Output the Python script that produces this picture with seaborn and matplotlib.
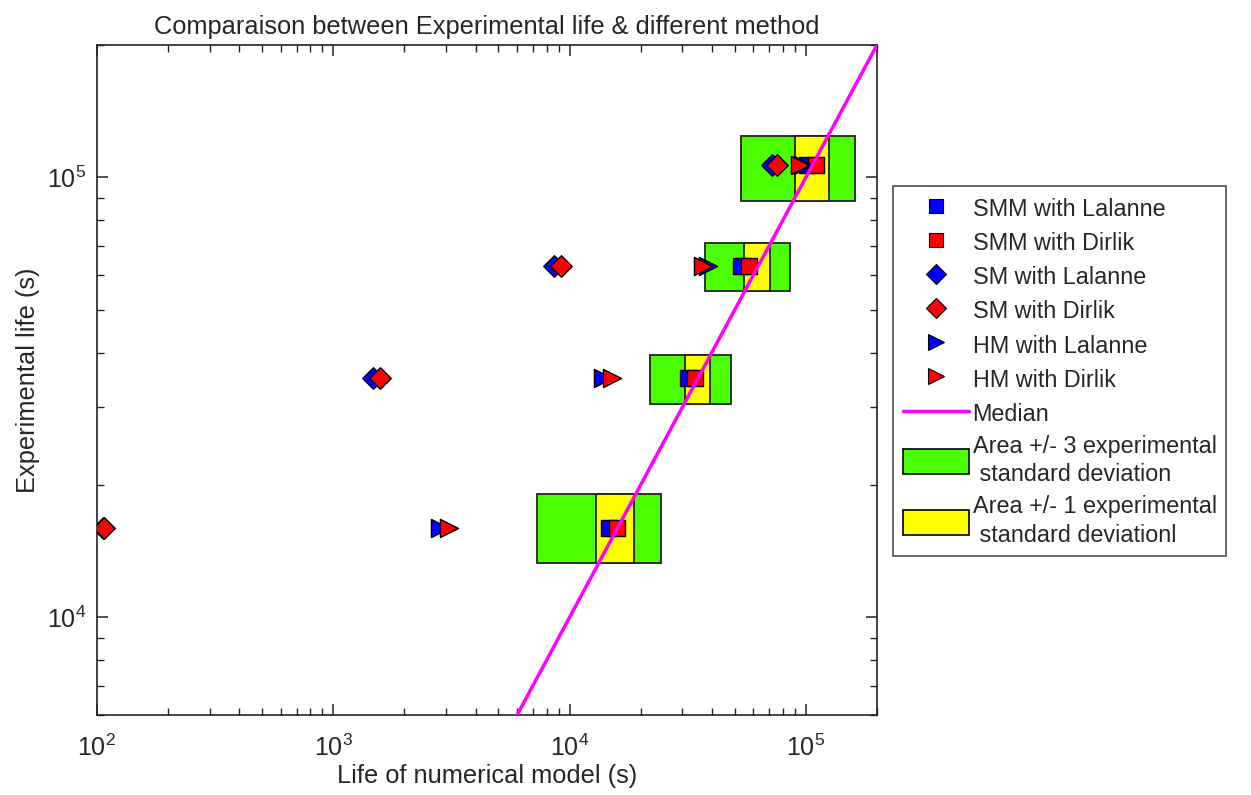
import numpy as np
import pandas as pd
import matplotlib
matplotlib.use("Agg")
import matplotlib.pyplot as plt
import seaborn as sns
from matplotlib.patches import Rectangle, Patch
from matplotlib.lines import Line2D
from matplotlib.ticker import LogLocator, NullFormatter

sns.set_theme(style="white")
plt.rcParams['font.family'] = ['Liberation Sans', 'DejaVu Sans']
plt.rcParams['mathtext.fontset'] = 'custom'
plt.rcParams['mathtext.rm'] = 'Liberation Sans'
plt.rcParams['mathtext.it'] = 'Liberation Sans'

# ---- data ----
exp_life = [16000, 35000, 63000, 106500]

smm_lalanne = [14750, 31600, 53000, 101500]
smm_dirlik = [15950, 33900, 57300, 110000]
sm_lalanne = [106, 1476, 8630, 71800]
sm_dirlik = [107, 1581, 9160, 75400]
hm_lalanne = [2840, 13800, 38500, 97500]
hm_dirlik = [3100, 15060, 36650, 94400]

green_x_lo = [7300, 22000, 37300, 53100]
green_x_hi = [24500, 48000, 85500, 161000]
yellow_x_lo = [13000, 30700, 54600, 89800]
yellow_x_hi = [18700, 39200, 70300, 125000]
box_y_lo = [13300, 30600, 55200, 88300]
box_y_hi = [19100, 39400, 71000, 123900]

median_x = [100, 200000]
median_y = [100, 200000]

series = [
    ("SMM with Lalanne", smm_lalanne, "s", "#0000FF"),
    ("SMM with Dirlik", smm_dirlik, "s", "#FF0000"),
    ("SM with Lalanne", sm_lalanne, "D", "#0000FF"),
    ("SM with Dirlik", sm_dirlik, "D", "#FF0000"),
    ("HM with Lalanne", hm_lalanne, ">", "#0000FF"),
    ("HM with Dirlik", hm_dirlik, ">", "#FF0000"),
]
GREEN = "#4CFF00"
YELLOW = "#FFFF00"
MAGENTA = "#FF00FF"

fig = plt.figure(figsize=(12.51, 7.95), dpi=100)
ax = fig.add_axes([0.0775, 0.1006, 0.6235, 0.8428])
ax.set_xscale("log")
ax.set_yscale("log")

# boxes
for gl, gh, yl, yh, yl_, yh_ in zip(green_x_lo, green_x_hi, yellow_x_lo, yellow_x_hi, box_y_lo, box_y_hi):
    ax.add_patch(Rectangle((gl, yl_), gh - gl, yh_ - yl_, facecolor=GREEN,
                           edgecolor="#222222", lw=1.3, zorder=1))
    ax.add_patch(Rectangle((yl, yl_), yh - yl, yh_ - yl_, facecolor=YELLOW,
                           edgecolor="#222222", lw=1.3, zorder=1.1))

# markers
msize = {"s": 130, "D": 120, ">": 170}
for name, xs, mk, col in series:
    df = pd.DataFrame({"x": xs, "y": exp_life})
    sns.scatterplot(data=df, x="x", y="y", marker=mk, color=col, s=msize[mk],
                    edgecolor="black", linewidth=1.0, ax=ax, zorder=3, legend=False)

# median line
sns.lineplot(x=median_x, y=median_y, color=MAGENTA, lw=2.5, ax=ax, zorder=4)

ax.set_xlim(100, 200000)
ax.set_ylim(6000, 200000)

ax.xaxis.set_major_locator(LogLocator(base=10))
ax.yaxis.set_major_locator(LogLocator(base=10))
ax.xaxis.set_minor_locator(LogLocator(base=10, subs=np.arange(2, 10)))
ax.yaxis.set_minor_locator(LogLocator(base=10, subs=np.arange(2, 10)))
ax.xaxis.set_minor_formatter(NullFormatter())
ax.yaxis.set_minor_formatter(NullFormatter())
ax.tick_params(which="both", direction="in", top=True, right=True, bottom=True, left=True,
               color="#222222")
ax.tick_params(which="major", length=8, width=1.1, labelsize=18)
ax.tick_params(axis="x", which="major", pad=14)
ax.tick_params(axis="y", which="major", pad=8)
ax.tick_params(which="minor", length=5, width=1.0)
for sp in ax.spines.values():
    sp.set_color("#222222")
    sp.set_linewidth(1.2)

ax.set_xlabel("Life of numerical model (s)", fontsize=18.3, labelpad=2)
ax.set_ylabel("Experimental life (s)", fontsize=18.3, labelpad=5)
ax.set_title("Comparaison between Experimental life & different method", fontsize=18.3, pad=8)

handles = [Line2D([], [], linestyle="none", marker=mk, color=col, markeredgecolor="black",
                  markersize=10 if mk != ">" else 11, markeredgewidth=0.8)
           for _, _, mk, col in series]
labels = [s[0] for s in series]
handles.append(Line2D([], [], color=MAGENTA, lw=2.5))
labels.append("Median")
handles.append(Patch(facecolor=GREEN, edgecolor="black", lw=1.2))
labels.append("Area +/- 3 experimental\n standard deviation")
handles.append(Patch(facecolor=YELLOW, edgecolor="black", lw=1.2))
labels.append("Area +/- 1 experimental\n standard deviationl")

leg = fig.legend(handles, labels, loc="upper left", bbox_to_anchor=(0.714, 0.766),
                 frameon=True, fancybox=False, edgecolor="#222222", fontsize=16.8,
                 handlelength=2.85, handleheight=1.3, handletextpad=0.15,
                 labelspacing=0.37, borderpad=0.4, borderaxespad=0)
leg.get_frame().set_linewidth(1.2)
for t in leg.get_texts():
    t.set_linespacing(1.33)

fig.savefig("out.png", dpi=100)
